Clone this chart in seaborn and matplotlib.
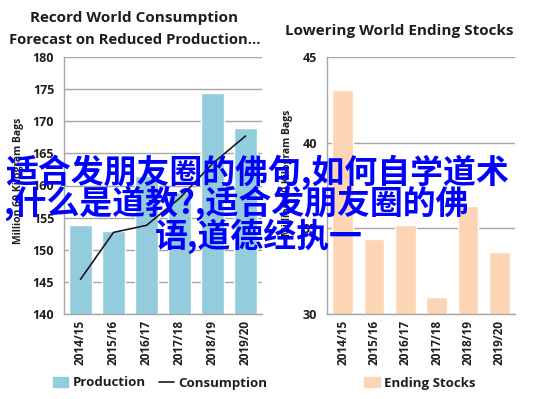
import matplotlib
matplotlib.use("Agg")
import matplotlib.pyplot as plt
import seaborn as sns
import pandas as pd
from matplotlib.patches import Patch
from matplotlib.lines import Line2D

# data
years = ["2014/15", "2015/16", "2016/17", "2017/18", "2018/19", "2019/20"]
production = [153.8, 152.9, 161.5, 159.0, 174.4, 169.0]
consumption = [145.4, 152.7, 153.8, 158.0, 163.4, 167.7]
ending_stocks = [43.1, 34.4, 35.2, 31.0, 36.3, 33.6]

overlay_lines = ["适合发朋友圈的佛句,如何自学道术",
                 ",什么是道教?,适合发朋友圈的佛",
                 "语,道德经执一"]

sns.set_style("white")
plt.rcParams["font.family"] = ["Open Sans", "DejaVu Sans"]

df = pd.DataFrame({"year": years, "Production": production,
                   "Consumption": consumption, "Ending Stocks": ending_stocks})

fig = plt.figure(figsize=(5.37, 3.99), dpi=100)
ax1 = fig.add_axes([64 / 537, 1 - 314 / 399, (262 - 64) / 537, (314 - 57) / 399])
ax2 = fig.add_axes([327 / 537, 1 - 314 / 399, (515 - 327) / 537, (314 - 57) / 399])

blue = "#93CDDD"
peach = "#FCD5B4"
grid_c = "#A6A6A6"
txt_c = "#1e1e1e"

sns.barplot(data=df, x="year", y="Production", color=blue, width=0.67,
            saturation=1, ax=ax1, zorder=2)
ax1.plot(range(len(years)), df["Consumption"], color="#1a1a1a", lw=1.2, zorder=3)
sns.barplot(data=df, x="year", y="Ending Stocks", color=peach, width=0.67,
            saturation=1, ax=ax2, zorder=2)

for ax, lo, hi, step in [(ax1, 140, 180, 5), (ax2, 30, 45, 5)]:
    ax.set_ylim(lo, hi)
    ax.set_xlim(-0.5, len(years) - 0.5)
    ax.set_yticks(range(lo, hi + 1, step))
    ax.yaxis.grid(True, color=grid_c, lw=1)
    ax.set_axisbelow(True)
    for s in ["top", "right"]:
        ax.spines[s].set_visible(False)
    for s in ["left", "bottom"]:
        ax.spines[s].set_color(grid_c)
        ax.spines[s].set_linewidth(1)
    ax.set_xlabel("")
    ax.set_ylabel("Million 60 Kilogram Bags", fontsize=7.5, fontweight="bold",
                  color=txt_c, labelpad=2)
    ax.set_xticks([i - 0.5 for i in range(len(years) + 1)], minor=False)
    ax.set_xticklabels([""] * (len(years) + 1))
    ax.set_xticks(range(len(years)), minor=True)
    ax.set_xticklabels(years, minor=True, rotation=90, fontsize=8.5,
                       fontweight="bold", color=txt_c)
    ax.tick_params(axis="x", which="major", length=4, color=grid_c, direction="out")
    ax.tick_params(axis="x", which="minor", length=0, pad=4)
    ax.tick_params(axis="y", length=4, color=grid_c, direction="out",
                   labelsize=9, pad=3, labelcolor=txt_c)
    for t in ax.get_yticklabels():
        t.set_fontweight("bold")

ax1.yaxis.set_label_coords(-0.2, 0.52)
ax2.yaxis.set_label_coords(-0.18, 0.55)

fig.text(134 / 537, 1 - 18 / 399, "Record World Consumption", ha="center",
         va="center", fontsize=11, fontweight="bold", color=txt_c)
fig.text(135 / 537, 1 - 40 / 399, "Forecast on Reduced Production...", ha="center",
         va="center", fontsize=10.7, fontweight="bold", color=txt_c)
fig.text(399 / 537, 1 - 31 / 399, "Lowering World Ending Stocks", ha="center",
         va="center", fontsize=11, fontweight="bold", color=txt_c)

h1 = [Patch(color=blue), Line2D([0], [0], color="#1a1a1a", lw=1.2)]
ax1.legend(h1, ["Production", "Consumption"], loc="center", ncol=2,
           frameon=False, prop={"weight": "bold", "size": 9.5},
           handlelength=1.2, handletextpad=0.3, columnspacing=1.0,
           labelcolor=txt_c)
ax1.get_legend().set_bbox_to_anchor((160 / 537, 1 - 383 / 399), transform=fig.transFigure)
ax2.legend([Patch(color=peach)], ["Ending Stocks"], loc="center", frameon=False,
           prop={"weight": "bold", "size": 9.5}, handlelength=1.2,
           handletextpad=0.3, labelcolor=txt_c)
ax2.get_legend().set_bbox_to_anchor((420 / 537, 1 - 383 / 399), transform=fig.transFigure)

cjk = ["Noto Sans CJK SC", "DejaVu Sans"]
for txt, x, y in zip(overlay_lines, [5, 3, 155], [172, 203, 236]):
    fig.text(x / 537, 1 - y / 399, txt, ha="left", va="center", fontsize=23.7,
             fontweight="bold", color="#0000FF", family=cjk, zorder=10)

fig.savefig("out.png", dpi=100)
